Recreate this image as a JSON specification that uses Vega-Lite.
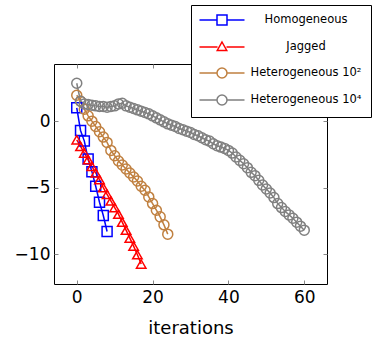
{
  "$schema": "https://vega.github.io/schema/vega-lite/v6.json",
  "width": 273,
  "height": 220,
  "autosize": {"type": "none"},
  "padding": {"left": 54, "top": 64, "right": 49, "bottom": 53},
  "background": "white",
  "config": {
    "font": "DejaVu Sans",
    "view": {"stroke": "black", "strokeWidth": 1},
    "axis": {
      "domain": false,
      "grid": false,
      "tickColor": "#888888",
      "tickSize": -4,
      "tickWidth": 1,
      "labelFont": "DejaVu Sans",
      "labelFontSize": 17,
      "labelColor": "black",
      "titleFont": "DejaVu Sans",
      "titleFontSize": 18,
      "titleFontWeight": "normal",
      "titleColor": "black"
    }
  },
  "data": {
    "values": [
      {"series": "Homogeneous", "x": 0, "y": 1.0},
      {"series": "Homogeneous", "x": 1, "y": -0.7},
      {"series": "Homogeneous", "x": 2, "y": -1.5},
      {"series": "Homogeneous", "x": 3, "y": -2.85},
      {"series": "Homogeneous", "x": 4, "y": -3.8},
      {"series": "Homogeneous", "x": 5, "y": -4.9},
      {"series": "Homogeneous", "x": 6, "y": -6.1},
      {"series": "Homogeneous", "x": 7, "y": -7.1},
      {"series": "Homogeneous", "x": 8, "y": -8.3},
      {"series": "Jagged", "x": 0, "y": -1.4},
      {"series": "Jagged", "x": 1, "y": -1.9},
      {"series": "Jagged", "x": 2, "y": -2.4},
      {"series": "Jagged", "x": 3, "y": -2.9},
      {"series": "Jagged", "x": 4, "y": -3.4},
      {"series": "Jagged", "x": 5, "y": -3.9},
      {"series": "Jagged", "x": 6, "y": -4.4},
      {"series": "Jagged", "x": 7, "y": -5.0},
      {"series": "Jagged", "x": 8, "y": -5.5},
      {"series": "Jagged", "x": 9, "y": -6.0},
      {"series": "Jagged", "x": 10, "y": -6.5},
      {"series": "Jagged", "x": 11, "y": -7.0},
      {"series": "Jagged", "x": 12, "y": -7.6},
      {"series": "Jagged", "x": 13, "y": -8.2},
      {"series": "Jagged", "x": 14, "y": -8.8},
      {"series": "Jagged", "x": 15, "y": -9.4},
      {"series": "Jagged", "x": 16, "y": -10.05},
      {"series": "Jagged", "x": 17, "y": -10.75},
      {"series": "Heterogeneous 10²", "x": 0, "y": 1.95},
      {"series": "Heterogeneous 10²", "x": 1, "y": 1.5},
      {"series": "Heterogeneous 10²", "x": 2, "y": 0.9},
      {"series": "Heterogeneous 10²", "x": 3, "y": 0.4},
      {"series": "Heterogeneous 10²", "x": 4, "y": 0.0},
      {"series": "Heterogeneous 10²", "x": 5, "y": -0.4},
      {"series": "Heterogeneous 10²", "x": 6, "y": -0.8},
      {"series": "Heterogeneous 10²", "x": 7, "y": -1.2},
      {"series": "Heterogeneous 10²", "x": 8, "y": -1.6},
      {"series": "Heterogeneous 10²", "x": 9, "y": -2.2},
      {"series": "Heterogeneous 10²", "x": 10, "y": -2.6},
      {"series": "Heterogeneous 10²", "x": 11, "y": -3.0},
      {"series": "Heterogeneous 10²", "x": 12, "y": -3.3},
      {"series": "Heterogeneous 10²", "x": 13, "y": -3.6},
      {"series": "Heterogeneous 10²", "x": 14, "y": -3.9},
      {"series": "Heterogeneous 10²", "x": 15, "y": -4.2},
      {"series": "Heterogeneous 10²", "x": 16, "y": -4.5},
      {"series": "Heterogeneous 10²", "x": 17, "y": -4.9},
      {"series": "Heterogeneous 10²", "x": 18, "y": -5.2},
      {"series": "Heterogeneous 10²", "x": 19, "y": -5.7},
      {"series": "Heterogeneous 10²", "x": 20, "y": -6.2},
      {"series": "Heterogeneous 10²", "x": 21, "y": -6.7},
      {"series": "Heterogeneous 10²", "x": 22, "y": -7.2},
      {"series": "Heterogeneous 10²", "x": 23, "y": -7.8},
      {"series": "Heterogeneous 10²", "x": 24, "y": -8.5},
      {"series": "Heterogeneous 10⁴", "x": 0, "y": 2.85},
      {"series": "Heterogeneous 10⁴", "x": 1, "y": 1.5},
      {"series": "Heterogeneous 10⁴", "x": 2, "y": 1.3},
      {"series": "Heterogeneous 10⁴", "x": 3, "y": 1.25},
      {"series": "Heterogeneous 10⁴", "x": 4, "y": 1.2},
      {"series": "Heterogeneous 10⁴", "x": 5, "y": 1.15},
      {"series": "Heterogeneous 10⁴", "x": 6, "y": 1.1},
      {"series": "Heterogeneous 10⁴", "x": 7, "y": 1.1},
      {"series": "Heterogeneous 10⁴", "x": 8, "y": 1.05},
      {"series": "Heterogeneous 10⁴", "x": 9, "y": 1.1},
      {"series": "Heterogeneous 10⁴", "x": 10, "y": 1.15},
      {"series": "Heterogeneous 10⁴", "x": 11, "y": 1.3},
      {"series": "Heterogeneous 10⁴", "x": 12, "y": 1.35},
      {"series": "Heterogeneous 10⁴", "x": 13, "y": 1.15},
      {"series": "Heterogeneous 10⁴", "x": 14, "y": 1.05},
      {"series": "Heterogeneous 10⁴", "x": 15, "y": 0.95},
      {"series": "Heterogeneous 10⁴", "x": 16, "y": 0.85},
      {"series": "Heterogeneous 10⁴", "x": 17, "y": 0.75},
      {"series": "Heterogeneous 10⁴", "x": 18, "y": 0.65},
      {"series": "Heterogeneous 10⁴", "x": 19, "y": 0.55},
      {"series": "Heterogeneous 10⁴", "x": 20, "y": 0.4},
      {"series": "Heterogeneous 10⁴", "x": 21, "y": 0.25},
      {"series": "Heterogeneous 10⁴", "x": 22, "y": 0.1},
      {"series": "Heterogeneous 10⁴", "x": 23, "y": -0.05},
      {"series": "Heterogeneous 10⁴", "x": 24, "y": -0.2},
      {"series": "Heterogeneous 10⁴", "x": 25, "y": -0.3},
      {"series": "Heterogeneous 10⁴", "x": 26, "y": -0.4},
      {"series": "Heterogeneous 10⁴", "x": 27, "y": -0.55},
      {"series": "Heterogeneous 10⁴", "x": 28, "y": -0.65},
      {"series": "Heterogeneous 10⁴", "x": 29, "y": -0.75},
      {"series": "Heterogeneous 10⁴", "x": 30, "y": -0.85},
      {"series": "Heterogeneous 10⁴", "x": 31, "y": -1.0},
      {"series": "Heterogeneous 10⁴", "x": 32, "y": -1.1},
      {"series": "Heterogeneous 10⁴", "x": 33, "y": -1.25},
      {"series": "Heterogeneous 10⁴", "x": 34, "y": -1.4},
      {"series": "Heterogeneous 10⁴", "x": 35, "y": -1.5},
      {"series": "Heterogeneous 10⁴", "x": 36, "y": -1.7},
      {"series": "Heterogeneous 10⁴", "x": 37, "y": -1.85},
      {"series": "Heterogeneous 10⁴", "x": 38, "y": -1.95},
      {"series": "Heterogeneous 10⁴", "x": 39, "y": -2.05},
      {"series": "Heterogeneous 10⁴", "x": 40, "y": -2.2},
      {"series": "Heterogeneous 10⁴", "x": 41, "y": -2.4},
      {"series": "Heterogeneous 10⁴", "x": 42, "y": -2.7},
      {"series": "Heterogeneous 10⁴", "x": 43, "y": -2.95},
      {"series": "Heterogeneous 10⁴", "x": 44, "y": -3.2},
      {"series": "Heterogeneous 10⁴", "x": 45, "y": -3.5},
      {"series": "Heterogeneous 10⁴", "x": 46, "y": -3.85},
      {"series": "Heterogeneous 10⁴", "x": 47, "y": -4.1},
      {"series": "Heterogeneous 10⁴", "x": 48, "y": -4.45},
      {"series": "Heterogeneous 10⁴", "x": 49, "y": -4.8},
      {"series": "Heterogeneous 10⁴", "x": 50, "y": -5.1},
      {"series": "Heterogeneous 10⁴", "x": 51, "y": -5.4},
      {"series": "Heterogeneous 10⁴", "x": 52, "y": -5.75},
      {"series": "Heterogeneous 10⁴", "x": 53, "y": -6.2},
      {"series": "Heterogeneous 10⁴", "x": 54, "y": -6.5},
      {"series": "Heterogeneous 10⁴", "x": 55, "y": -6.8},
      {"series": "Heterogeneous 10⁴", "x": 56, "y": -7.05},
      {"series": "Heterogeneous 10⁴", "x": 57, "y": -7.3},
      {"series": "Heterogeneous 10⁴", "x": 58, "y": -7.6},
      {"series": "Heterogeneous 10⁴", "x": 59, "y": -7.9},
      {"series": "Heterogeneous 10⁴", "x": 60, "y": -8.2}
    ]
  },
  "layer": [
    {
      "mark": {"type": "line", "strokeWidth": 1.5},
      "encoding": {
        "x": {"field": "x", "type": "quantitative", "scale": {"domain": [-6, 66], "nice": false, "zero": false},
              "axis": {"orient": "bottom", "values": [0, 20, 40, 60], "title": "iterations", "labelPadding": 9, "titlePadding": 14}},
        "y": {"field": "y", "type": "quantitative", "scale": {"domain": [-12.25, 4.3], "nice": false, "zero": false},
              "axis": {"orient": "left", "values": [-10, -5, 0], "title": null, "labelPadding": 8}},
        "color": {
          "field": "series", "type": "nominal",
          "scale": {"domain": ["Homogeneous", "Jagged", "Heterogeneous 10²", "Heterogeneous 10⁴"],
                    "range": ["#0000ff", "#ff0000", "#c08040", "#808080"]},
          "legend": {
            "title": null,
            "orient": "none",
            "legendX": 137,
            "legendY": -59,
            "strokeColor": "black",
            "fillColor": "white",
            "padding": 9,
            "rowPadding": 11,
            "symbolSize": 100,
            "symbolStrokeWidth": 1.5,
            "symbolFillColor": "white",
            "symbolOffset": 16,
            "labelAlign": "center",
            "labelOffset": 78,
            "labelFontSize": 11.5,
            "labelColor": "black",
            "labelFont": "DejaVu Sans",
            "labelLimit": 300,
            "encode": {
              "symbols": {
                "update": {
                  "shape": {"signal": "datum.value === 'Homogeneous' ? 'M-4.5,0H-1M1,0H4.5M-1,-1H1V1H-1Z' : datum.value === 'Jagged' ? 'M-4.5,0H-0.9M0.9,0H4.5M0,-1L0.95,0.7L-0.95,0.7Z' : 'M-4.5,0H-1M1,0H4.5M-1,0A1,1,0,1,0,1,0A1,1,0,1,0,-1,0Z'"}
                }
              }
            }
          }
        },
        "order": {"field": "x", "type": "quantitative"}
      }
    },
    {
      "transform": [{"filter": "datum.series === 'Homogeneous'"}],
      "mark": {"type": "point", "shape": "square", "color": "#0000ff", "filled": false, "strokeWidth": 1.5, "size": 100, "opacity": 1},
      "encoding": {
        "x": {"field": "x", "type": "quantitative", "axis": null},
        "y": {"field": "y", "type": "quantitative", "axis": null}
      }
    },
    {
      "transform": [{"filter": "datum.series === 'Jagged'"}],
      "mark": {"type": "point", "shape": "triangle-up", "color": "#ff0000", "filled": false, "strokeWidth": 1.5, "size": 90, "opacity": 1},
      "encoding": {
        "x": {"field": "x", "type": "quantitative", "axis": null},
        "y": {"field": "y", "type": "quantitative", "axis": null}
      }
    },
    {
      "transform": [{"filter": "datum.series === 'Heterogeneous 10²'"}],
      "mark": {"type": "point", "shape": "circle", "color": "#c08040", "filled": false, "strokeWidth": 1.5, "size": 100, "opacity": 1},
      "encoding": {
        "x": {"field": "x", "type": "quantitative", "axis": null},
        "y": {"field": "y", "type": "quantitative", "axis": null}
      }
    },
    {
      "transform": [{"filter": "datum.series === 'Heterogeneous 10⁴'"}],
      "mark": {"type": "point", "shape": "circle", "color": "#808080", "filled": false, "strokeWidth": 1.5, "size": 100, "opacity": 1},
      "encoding": {
        "x": {"field": "x", "type": "quantitative", "axis": null},
        "y": {"field": "y", "type": "quantitative", "axis": null}
      }
    },
    {
      "mark": {"type": "point", "opacity": 0},
      "encoding": {
        "x": {"field": "x", "type": "quantitative", "axis": {"orient": "top", "values": [0, 20, 40, 60], "labels": false, "title": null}},
        "y": {"field": "y", "type": "quantitative", "axis": {"orient": "right", "values": [-10, -5, 0], "labels": false, "title": null}}
      }
    }
  ],
  "resolve": {"axis": {"x": "independent", "y": "independent"}}
}
